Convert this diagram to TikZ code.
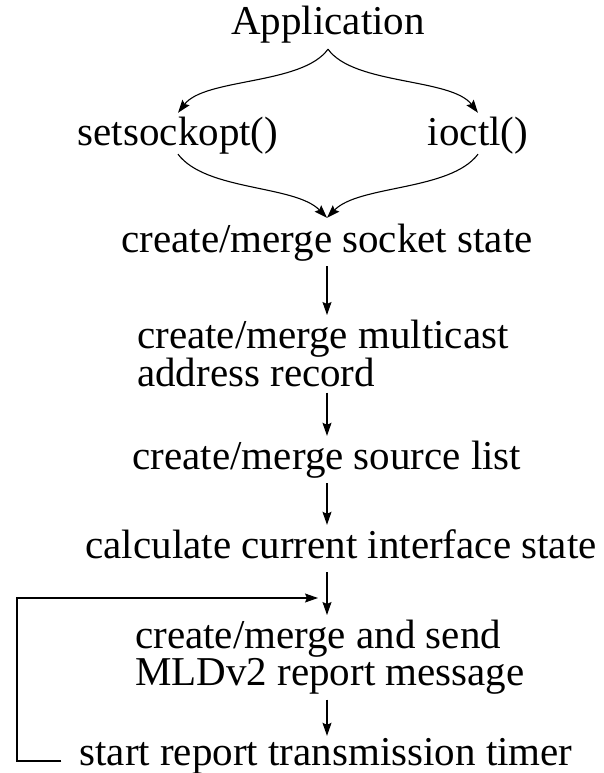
\documentclass[tikz,border=0pt]{standalone}
\usepackage{fontspec}
\setmainfont{Liberation Serif}
\usetikzlibrary{arrows.meta}
\tikzstyle{arrow} = [line width=1.1pt,-{Stealth[length=13pt,width=9pt,inset=2pt]}]
\tikzstyle{gap} = [shorten <=5pt,shorten >=5pt]
\tikzstyle{lbl} = [inner sep=0pt,text height=28pt,text depth=9pt]
\tikzstyle{blk} = [inner sep=0pt,align=left]

\begin{document}
\begin{tikzpicture}[x=1pt,y=-1pt,font=\fontsize{41pt}{35pt}\selectfont]
\useasboundingbox (0,0) rectangle (603,773);

\coordinate (spine) at (327,0);
\coordinate (loopl) at (17,598);
\coordinate (fbin) at (318,598);

\node[lbl,anchor=base] (app) at (328,35) {Application};
\node[lbl,anchor=base] (sso) at (178,145) {setsockopt()};
\node[lbl,anchor=base] (ioc) at (478,145) {ioctl()};
\node[lbl,anchor=base] (sock) at (327,252) {create/merge socket state};
\node[blk,anchor=north west] (mcast) at (137,320) {create/merge multicast\\address record};
\node[lbl,anchor=base] (srcl) at (327,469) {create/merge source list};
\node[lbl,anchor=base] (calc) at (341,558) {calculate current interface state};
\node[blk,anchor=north west] (send) at (135,620) {create/merge and send\\MLDv2 report message};
\node[lbl,anchor=base] (timer) at (326,765) {start report transmission timer};

% application to the two calls
\draw[arrow] ([yshift=-5pt]app.south) .. controls +(-26,36) and +(27,-35) .. ([yshift=4pt]sso.north);
\draw[arrow] ([yshift=-5pt]app.south) .. controls +(26,36) and +(-27,-35) .. ([yshift=4pt]ioc.north);
\draw[arrow] (sso.south) .. controls +(28,37) and +(-32,-33) .. ([yshift=6pt]sock.north);
\draw[arrow] (ioc.south) .. controls +(-28,37) and +(32,-33) .. ([yshift=6pt]sock.north);

% main chain
\draw[arrow,gap] (sock.south -| spine) -- (mcast.north -| spine);
\draw[arrow,gap] (mcast.south -| spine) -- (srcl.north -| spine);
\draw[arrow,gap] (srcl.south -| spine) -- (calc.north -| spine);
\draw[arrow,gap] (calc.south -| spine) -- (send.north -| spine);
\draw[arrow,gap,shorten >=1pt] (send.south -| spine) -- (timer.north -| spine);

% timer loop
\draw[arrow] ([shift={(-18,-4)}]timer.base west) -| (loopl) -- (fbin);

\end{tikzpicture}
\end{document}
